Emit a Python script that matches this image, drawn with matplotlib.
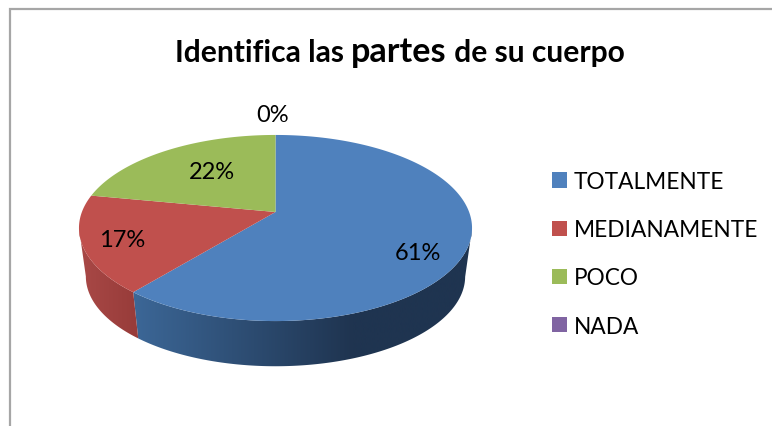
import numpy as np
import matplotlib
matplotlib.use('Agg')
import matplotlib.pyplot as plt
from matplotlib.colors import to_rgb
from matplotlib.patches import Patch, Polygon

# Data
categories = ['TOTALMENTE', 'MEDIANAMENTE', 'POCO', 'NADA']
values = [61, 17, 22, 0]
colors = ['#4f81bd', '#c0504d', '#9bbb59', '#8064a2']
side_left = ['#3c6797', '#a84846', '#7d9647', '#66508a']
side_right = ['#1f3450', '#983c3a', '#7d9647', '#66508a']
title_parts = [('Identifica las ', 21.6, 'bold'), ('partes', 24.6, 'bold'), (' de su cuerpo', 21.6, 'bold')]

# Pie geometry in figure pixels, the tilt gives the perspective look
cx, cy = 275.5, 213
rx, ry, tilt = 193.6, 90.3, 0.172
depth_y, depth_scale = 49, 0.965
label_pos = [(418, 253), (122, 241), (212, 173), (273, 115)]
grad_range = [(133, 353), (82, 135)]

plt.rcParams['font.family'] = ['Lato', 'DejaVu Sans']

fig = plt.figure(figsize=(7.72, 4.27), dpi=100)
ax = fig.add_axes([0, 0, 1, 1])
ax.axis('off')


def rim(angles, lower=False):
    X, Y = np.cos(angles), np.sin(angles)
    dx = rx * X / (1 + tilt * Y)
    dy = ry * Y / (1 + tilt * Y)
    if lower:
        return cx + depth_scale * dx, cy + depth_y - depth_scale * dy
    return cx + dx, cy - dy


# Turn the values into wedge angles, clockwise from the top
fractions = np.array(values) / sum(values)
ends = np.pi / 2 - 2 * np.pi * np.cumsum(fractions)
starts = np.concatenate([[np.pi / 2], ends[:-1]])

# Side of the pie first, a horizontal gradient clipped to the side outline
for i in range(2):
    a = np.linspace(starts[i], ends[i], 400)
    # only the part below the widest point of the rim can be seen
    a = a[np.sin(a) < -tilt]
    xt, yt = rim(a)
    xb, yb = rim(a[::-1], lower=True)
    outline = Polygon(np.c_[np.r_[xt, xb], np.r_[yt, yb]], closed=True, facecolor='none',
                      edgecolor='none', transform=ax.transData)
    ax.add_patch(outline)
    xmin, xmax = min(xt.min(), xb.min()), max(xt.max(), xb.max())
    grid = np.linspace(xmin, xmax, 400)
    t = np.clip((grid - grad_range[i][0]) / (grad_range[i][1] - grad_range[i][0]), 0, 1)[:, None]
    c0, c1 = np.array(to_rgb(side_left[i])), np.array(to_rgb(side_right[i]))
    img = (c0 + (c1 - c0) * t)[None, :, :]
    im = ax.imshow(img, extent=(xmin, xmax, 427, 0), aspect='auto', zorder=1, interpolation='bilinear')
    im.set_clip_path(outline)

ax.set_xlim(0, 772)
ax.set_ylim(427, 0)

# Top face
for i in range(len(values)):
    if values[i] == 0:
        continue
    a = np.linspace(starts[i], ends[i], 300)
    xs, ys = rim(a)
    ax.fill(np.r_[cx, xs], np.r_[cy, ys], color=colors[i], lw=0, zorder=2)

# Percent labels
for v, (lx, ly) in zip(values, label_pos):
    ax.text(lx, ly, f'{v}%', ha='center', va='center', fontsize=17, color='black', zorder=3)

# Legend
handles = [Patch(facecolor=c, edgecolor='none') for c in colors]
ax.legend(handles, categories, loc='upper left', bbox_to_anchor=(552, 172),
          bbox_transform=ax.transData, frameon=False, fontsize=16.3, borderpad=0, borderaxespad=0,
          handlelength=0.67, handleheight=0.67, handletextpad=0.3, labelspacing=1.2)

# Chart border, only left and top are visible in the crop
ax.plot([10, 10, 772], [427, 10, 10], color='#a6a6a6', lw=1.6, solid_joinstyle='miter', clip_on=False)

# Title has one bigger word, so place the pieces one after the other
fig.canvas.draw()
rend = fig.canvas.get_renderer()
x_now = 175
for txt, size, weight in title_parts:
    t = ax.text(x_now, 62, txt.replace(' ', '\u00a0'), fontsize=size, fontweight=weight, ha='left', va='baseline', color='black')
    x_now = t.get_window_extent(rend).x1

plt.savefig('out.png', dpi=100)
